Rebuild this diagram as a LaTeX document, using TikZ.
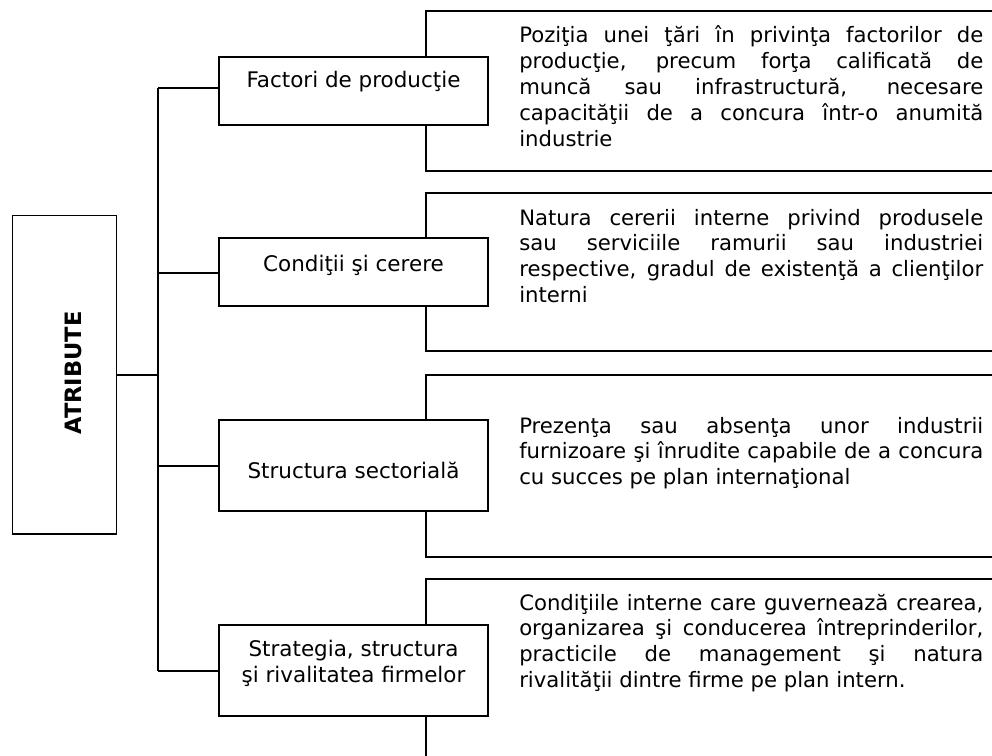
\documentclass[tikz,border=0pt]{standalone}
\usepackage{fontspec}
\setmainfont{DejaVu Sans}
\hyphenpenalty=10000
\exhyphenpenalty=10000
\tolerance=10000
\hbadness=10000
\begin{document}
\begin{tikzpicture}[x=0.75pt,y=-0.75pt,
  wire/.style={line width=1.2pt},
  box/.style={draw, line width=1.2pt, inner sep=0pt, minimum width=201.75pt},
  shortbox/.style={box, minimum height=51pt},
  tallbox/.style={box, minimum height=68.25pt},
  boxtext/.style={font=\fontsize{16.1}{19.2}\selectfont, inner sep=0pt, anchor=base, align=center},
  para/.style={font=\fontsize{15.9}{19.4}\selectfont, inner sep=0pt, anchor=base west,
               text width=348pt, align=justify}]
\useasboundingbox (0,0) rectangle (992,756);

% root box
\node[draw, line width=1.2pt, minimum width=78pt, minimum height=238.9pt, inner sep=0pt]
  (attr) at (64.5,374.75) {};
\node[font=\bfseries\fontsize{16.9}{19}\selectfont, rotate=90, inner sep=0pt]
  (attrtext) at (73.5,373) {ATRIBUTE};

% attribute boxes
\node[shortbox] (f1) at (353.5,91) {};
\node[shortbox] (f2) at (353.5,272) {};
\node[tallbox]  (f3) at (353.5,465.5) {};
\node[tallbox]  (f4) at (353.5,670.5) {};

\node[boxtext] (f1t) at (353.5,88) {Factori de producţie};
\node[boxtext] (f2t) at (353.5,271) {Condiţii şi cerere};
\node[boxtext] (f3t) at (353.5,478) {Structura sectorială};
\node[boxtext] (f4t) at (353.5,682) {Strategia, structura\\şi rivalitatea firmelor};

% trunk and branches
\coordinate (t1) at (158,88);
\coordinate (t2) at (158,273);
\coordinate (t3) at (158,466);
\coordinate (t4) at (158,671);
\draw[wire] (t1) -- (t4);
\draw[wire] (attr.east) -- (attr.east -| t1);
\draw[wire] (t1) -- (t1 -| f1.west);
\draw[wire] (t2) -- (t2 -| f2.west);
\draw[wire] (t3) -- (t3 -| f3.west);
\draw[wire] (t4) -- (t4 -| f4.west);

% description brackets
\coordinate (k1a) at (426,11);   \coordinate (k1b) at (426,171);
\coordinate (k2a) at (426,193);  \coordinate (k2b) at (426,351);
\coordinate (k3a) at (426,375);  \coordinate (k3b) at (426,557);
\coordinate (k4a) at (426,579);  \coordinate (k4b) at (426,760);
\coordinate (edge) at (996,0);

\draw[wire] (k1a -| edge) -- (k1a) -- (k1a |- f1.north);
\draw[wire] (k1a |- f1.south) -- (k1b) -- (k1b -| edge);
\draw[wire] (k2a -| edge) -- (k2a) -- (k2a |- f2.north);
\draw[wire] (k2a |- f2.south) -- (k2b) -- (k2b -| edge);
\draw[wire] (k3a -| edge) -- (k3a) -- (k3a |- f3.north);
\draw[wire] (k3a |- f3.south) -- (k3b) -- (k3b -| edge);
\draw[wire] (k4a -| edge) -- (k4a) -- (k4a |- f4.north);
\draw[wire] (k4a |- f4.south) -- (k4b);

% descriptions
\node[para] (p1) at (519,43) {Poziţia unei ţări în privinţa factorilor de\linebreak
producţie, precum forţa calificată de\linebreak
muncă sau infrastructură, necesare\linebreak
capacităţii de a concura într-o anumită\linebreak
industrie};
\node[para] (p2) at (519,225) {Natura cererii interne privind produsele\linebreak
sau serviciile ramurii sau industriei\linebreak
respective, gradul de existenţă a clienţilor\linebreak
interni};
\node[para] (p3) at (519,433) {Prezenţa sau absenţa unor industrii\linebreak
furnizoare şi înrudite capabile de a concura\linebreak
cu succes pe plan internaţional};
\node[para] (p4) at (519,610) {Condiţiile interne care guvernează crearea,\linebreak
organizarea şi conducerea întreprinderilor,\linebreak
practicile de management şi natura\linebreak
rivalităţii dintre firme pe plan intern.};
\end{tikzpicture}
\end{document}
